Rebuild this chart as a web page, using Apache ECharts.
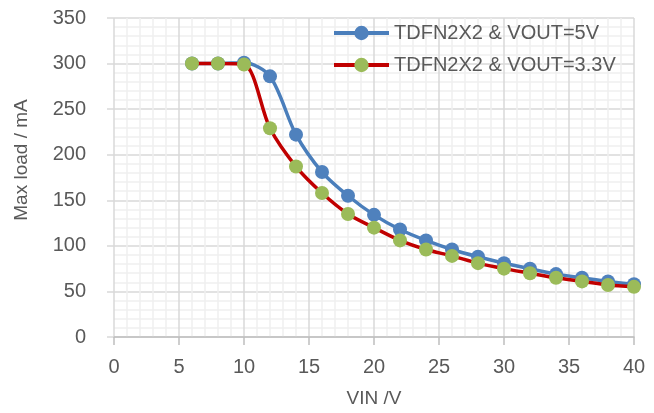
<!DOCTYPE html>
<html><head><meta charset="utf-8">
<script src="https://cdn.jsdelivr.net/npm/echarts@6/dist/echarts.min.js"></script>
<style>html,body{margin:0;padding:0;background:#fff}#c{width:654px;height:413px}</style>
</head><body><div id="c"></div>
<script>
var vin = [6, 8, 10, 12, 14, 16, 18, 20, 22, 24, 26, 28, 30, 32, 34, 36, 38, 40];
var load5V = [300, 300, 301, 286, 222, 181, 155, 134, 118, 106, 96, 88, 81, 75, 69, 65, 61, 58];
var load33V = [300, 300, 299, 229, 187, 158, 135, 120, 106, 96, 89, 81, 75, 70, 65, 61, 57, 55];
var seriesNames = ['TDFN2X2 & VOUT=5V', 'TDFN2X2 & VOUT=3.3V'];
var xAxisName = 'VIN /V';
var yAxisName = 'Max load / mA';

function pairs(xs, ys) { return xs.map(function (x, i) { return [x, ys[i]]; }); }

var font = 'Liberation Sans';
var txt = '#595959';
var chart = echarts.init(document.getElementById('c'), null, { renderer: 'canvas' });
chart.setOption({
  animation: false,
  textStyle: { fontFamily: font },
  grid: { left: 114, right: 20, top: 18, bottom: 76 },
  graphic: [{
    type: 'text', x: 22, y: 160, rotation: Math.PI / 2,
    style: { text: yAxisName, fontFamily: font, fontSize: 19, fill: txt, align: 'center', verticalAlign: 'middle' }
  }],
  legend: {
    orient: 'vertical', left: 327, top: 18,
    itemWidth: 55, itemHeight: 18, itemGap: 12,
    lineStyle: { width: 4 },
    textStyle: { fontFamily: font, fontSize: 20, color: txt },
    data: seriesNames
  },
  xAxis: {
    type: 'value', min: 0, max: 40, interval: 5,
    name: xAxisName, nameLocation: 'middle', nameGap: 52,
    nameTextStyle: { fontFamily: font, fontSize: 19, color: txt },
    axisLine: { show: true, lineStyle: { color: '#bfbfbf', width: 1.5 } },
    axisTick: { show: true, length: 8, lineStyle: { color: '#bfbfbf', width: 1.5 } },
    axisLabel: { margin: 20, fontFamily: font, fontSize: 20, color: txt },
    splitLine: { show: true, lineStyle: { color: '#d9d9d9', width: 1.5 } },
    minorTick: { show: true, splitNumber: 5, length: 0 },
    minorSplitLine: { show: true, lineStyle: { color: '#f0f0f0', width: 1.5 } }
  },
  yAxis: {
    type: 'value', min: 0, max: 350, interval: 50,
    axisLine: { show: false },
    axisTick: { show: true, length: 7, lineStyle: { color: '#d9d9d9', width: 1.5 } },
    axisLabel: { margin: 28, fontFamily: font, fontSize: 20, color: txt },
    splitLine: { show: true, lineStyle: { color: '#d9d9d9', width: 1.5 } },
    minorTick: { show: true, splitNumber: 5, length: 0 },
    minorSplitLine: { show: true, lineStyle: { color: '#f0f0f0', width: 1.5 } }
  },
  series: [
    {
      name: seriesNames[0], type: 'line', smooth: 0.3,
      data: pairs(vin, load5V),
      symbol: 'circle', symbolSize: 14,
      lineStyle: { color: '#4a7ebb', width: 3.5 },
      itemStyle: { color: '#4f81bd' },
      z: 2
    },
    {
      name: seriesNames[1], type: 'line', smooth: 0.3,
      data: pairs(vin, load33V),
      symbol: 'circle', symbolSize: 14,
      lineStyle: { color: '#c00000', width: 3.5 },
      itemStyle: { color: '#9bbb59' },
      z: 3
    }
  ]
});
</script></body></html>
